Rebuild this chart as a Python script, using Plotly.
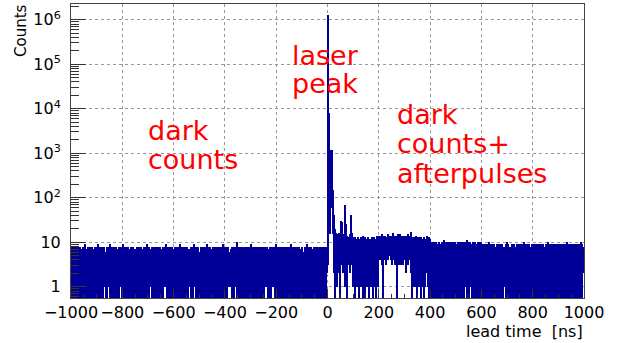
import plotly.graph_objects as go

# ---------------- data (per 4 ns column: lowest / highest bin content seen) -------------
# digits are base-36 encoded counts (a=10, b=11, ...); 0 = empty bin
dark_range = [-1000, 0]
dark_hi = ("8788786887" "7889678878" "8768879788" "7885688798" "8878768887"
           "9787886788" "8675887887" "7888968787" "8878878678" "8798787886"
           "7887889787" "8688778879" "7878568787" "8897887687" "8786878898"
           "7888678787" "8a87878868" "7878897878" "8687885878" "8878687889"
           "7887868787" "8868978878" "8787584687" "9878678887" "8786878878")
dark_lo = ("0010200100" "0100010010" "1000200101" "0011001100" "0101000210"
           "1000100010" "0010010001" "0200100100" "0001001010" "1110000100"
           "0010100020" "0100010001" "1000100100" "0010001010" "0201000100"
           "0001110001" "1000100010" "0100020100" "0010100001" "1100011100"
           "0101000010" "0010201000" "1000100101" "0010010000" "0100100102")

peak_range = [0, 100]
peak_hi = [1.3e6, 8000, 300, 1200, 1200, 150, 40, 20, 16, 15, 14, 16, 14,
           30, 28, 15, 14, 70, 25, 14, 13, 15, 40, 16, 13]
peak_lo = [3, 100, 15, 60, 80, 15, 2, 0, 3, 1, 4, 2, 0, 3, 5, 2, 3, 1, 4, 0,
           3, 2, 4, 3, 1]

after_range = [100, 1000]
after_hi = ("cdbcdcbdcecdbcdcbcdcdbcec"
            "edefdeedfe" "dedgeedefe" "fedeedeefd" "ehdcdcedcd" "cdcbdcecdc"
            "a9a9aa89a9" "9aab9a9a8a" "a9a9a99aa9" "a8a9aba9a9" "9a9a89a9aa"
            "9898989a89" "8998798989" "9889a98789" "8986989989" "9a98989879"
            "8989698998" "9898a98989" "7989898969" "898a989898" "9897989a98")
after_lo = ("1021301210" "2013102120" "31021"
            "4543054345" "5434535043" "4353452435" "4202121012" "1021012101"
            "0100102001" "0010100100" "1002010010" "0100100012" "0010010100"
            "1001000100" "0102001010" "0010100100" "1000102001" "0100010010"
            "0010100200" "1001001010" "0100100001" "0020010100" "1001000102")

x_ticks = [-1000, -800, -600, -400, -200, 0, 200, 400, 600, 800, 1000]
y_ticks = [1, 10, 100, 1000, 10000, 100000, 1000000]
y_tick_text = ["1", "10", "10<sup>2</sup>", "10<sup>3</sup>", "10<sup>4</sup>",
               "10<sup>5</sup>", "10<sup>6</sup>"]


def decode(s):
    return [int(c, 36) for c in s]


regions = [
    (dark_range, decode(dark_lo), decode(dark_hi)),
    (peak_range, peak_lo, peak_hi),
    (after_range, decode(after_lo), decode(after_hi)),
]

EMPTY = 0.2  # empty bins reach below the frame (clipped), like ROOT's log drawing
bx, bbase, blen, bw = [], [], [], []
for (a, b), lo, hi in regions:
    n = min(len(lo), len(hi))
    w = (b - a) / n
    for i in range(n):
        l = lo[i] if lo[i] > 0 else EMPTY
        bx.append(a + (i + 0.5) * w)
        bbase.append(l)
        blen.append(hi[i] - l)
        bw.append(w)

fig = go.Figure()
fig.add_trace(go.Bar(x=bx, y=blen, base=bbase, width=bw,
                     marker=dict(color="#000099", line=dict(width=0)),
                     hoverinfo="skip", showlegend=False))

FONT = "DejaVu Sans"
L, R, T, B, W, H = 71, 40, 4, 45, 624, 343
pw, ph = W - L - R, H - T - B


def px(xp):
    return (xp - L) / pw


def py(yp):
    return (H - B - yp) / ph


fig.update_layout(
    width=W, height=H, autosize=False,
    margin=dict(l=L, r=R, t=T, b=B, pad=0),
    paper_bgcolor="white", plot_bgcolor="white",
    font=dict(family=FONT, size=16, color="black"),
    barmode="overlay", bargap=0,
)

fig.update_xaxes(
    range=[-1000, 1000], tickvals=x_ticks, ticks="inside", ticklen=9,
    tickcolor="#333", showline=True, linecolor="#444", linewidth=1, mirror=True,
    showgrid=True, gridcolor="#999", griddash="dot", gridwidth=1, zeroline=False,
    tickfont=dict(family=FONT, size=16), ticklabelstandoff=0,
    minor=dict(ticks="inside", ticklen=4.5, tickcolor="#333", dtick=50, showgrid=False),
)
fig.update_yaxes(
    type="log", range=[-0.254, 6.353], tickvals=y_ticks, ticktext=y_tick_text,
    ticks="inside", ticklen=15, tickcolor="#333", showline=True, linecolor="#444",
    linewidth=1, mirror=True, showgrid=True, gridcolor="#999", griddash="dot",
    gridwidth=1, zeroline=False, ticklabelstandoff=6,
    tickfont=dict(family=FONT, size=16),
    minor=dict(ticks="inside", ticklen=7.5, tickcolor="#333", dtick="D1", showgrid=False),
)

RED = "#ff0000"
labels = [
    ("laser", 292, 65), ("peak", 292, 93),
    ("dark", 148, 140), ("counts", 148, 169),
    ("dark", 397, 124), ("counts+", 397, 153), ("afterpulses", 397, 183),
]
SZ = 27
for txt, xl, yb in labels:
    fig.add_annotation(text=txt, xref="paper", yref="paper", x=px(xl - 2),
                       y=py(yb - 0.35 * SZ), xanchor="left", yanchor="middle",
                       showarrow=False, font=dict(family=FONT, size=SZ, color=RED))

fig.add_annotation(text="Counts", xref="paper", yref="paper", x=px(21), y=py(31),
                   xanchor="center", yanchor="middle", textangle=-90, showarrow=False,
                   font=dict(family=FONT, size=15, color="black"))
fig.add_annotation(text="lead time\u00a0\u00a0[ns]", xref="paper", yref="paper",
                   x=px(585), y=py(331.5), xanchor="right", yanchor="middle",
                   showarrow=False, font=dict(family=FONT, size=16, color="black"))

fig.write_html("out.html", post_script="document.body.style.margin='0';",
               config={"displayModeBar": False})
